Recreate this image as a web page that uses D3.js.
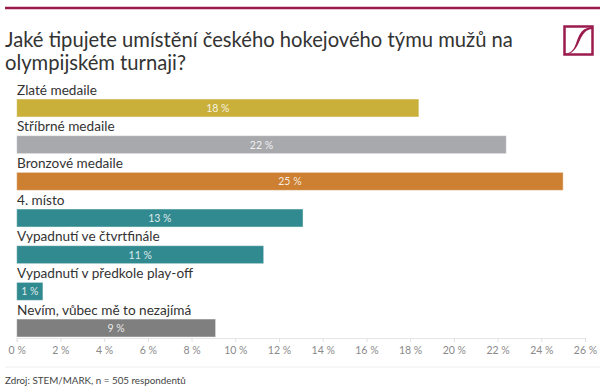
<!DOCTYPE html>
<html>
<head>
<meta charset="utf-8">
<script src="https://cdn.jsdelivr.net/npm/d3@7"></script>
<style>
  body { margin: 0; background: #fff; }
  svg { display: block; font-family: Lato, "Open Sans", sans-serif; }
</style>
</head>
<body>
<svg id="chart" width="605" height="392"></svg>
<script>
// data
const categories = ["Zlaté medaile", "Stříbrné medaile", "Bronzové medaile", "4. místo",
  "Vypadnutí ve čtvrtfinále", "Vypadnutí v předkole play-off", "Nevím, vůbec mě to nezajímá"];
const values = [18.4, 22.4, 25.0, 13.1, 11.3, 1.2, 9.1];
const labels = ["18 %", "22 %", "25 %", "13 %", "11 %", "1 %", "9 %"];
const colors = ["#c9b03b", "#a8a9ad", "#cd7f32", "#318a90", "#318a90", "#318a90", "#7f7f7f"];
const ticks = [0, 2, 4, 6, 8, 10, 12, 14, 16, 18, 20, 22, 24, 26];
const titleLines = ["Jaké tipujete umístění českého hokejového týmu mužů na", "olympijském turnaji?"];
const source = "Zdroj: STEM/MARK, n = 505 respondentů";

let svg = d3.select("#chart");
let maroon = "#9b1b4d";

// top rule
svg.append("line").attr("x1", 5).attr("x2", 600).attr("y1", 8).attr("y2", 8)
  .attr("stroke", maroon).attr("stroke-width", 2.5);

// title
svg.append("text").attr("x", 5).attr("y", 47)
  .attr("fill", "#333").style("font-size", "20.2px")
  .selectAll("tspan").data(titleLines).enter().append("tspan")
  .attr("x", 5).attr("dy", (d, i) => i == 0 ? 0 : 22.5)
  .text(d => d);

// logo
let logo = svg.append("g").attr("transform", "translate(563,25)");
logo.append("rect").attr("x", 1.5).attr("y", 1.5).attr("width", 28).attr("height", 28)
  .attr("fill", "none").attr("stroke", maroon).attr("stroke-width", 2.5);
logo.append("path")
  .attr("d", "M2,29 C12,27 12,20 15,13 C18,6 21,3 29,2 L29,4 C22,5 20,9 17,15 C14,22 11,28 4,29 Z")
  .attr("fill", maroon);

let x = d3.scaleLinear().domain([0, 26]).range([16.7, 585]);
let y = d3.scaleBand().domain(categories).range([80.3, 337]);

let rows = svg.selectAll(".row").data(categories).enter().append("g").attr("class", "row");

rows.append("text")
  .attr("x", 17).attr("y", d => y(d) + 14.5)
  .attr("fill", "#333").style("font-size", "13.6px")
  .text(d => d);

rows.append("rect")
  .attr("x", x(0)).attr("y", d => y(d) + 18.7)
  .attr("width", (d, i) => x(values[i]) - x(0)).attr("height", 18)
  .attr("fill", (d, i) => colors[i])
  .attr("stroke", "#fff").attr("stroke-opacity", 0.45).attr("stroke-width", 1);

rows.append("text")
  .attr("x", (d, i) => (x(0) + x(values[i])) / 2).attr("y", d => y(d) + 31.6)
  .attr("text-anchor", "middle").attr("fill", "#fff").attr("fill-opacity", 0.85)
  .style("font-size", "10.5px")
  .text((d, i) => labels[i]);

// axis
let axis = svg.append("g").attr("transform", "translate(0,338)")
  .call(d3.axisBottom(x).tickValues(ticks).tickSize(4).tickPadding(5).tickFormat(d => d + " %"));
axis.select(".domain").attr("stroke", "#e6e6e6");
axis.selectAll(".tick line").attr("stroke", "#e0e0e0");
axis.selectAll(".tick text").attr("fill", "#8a8a8a").style("font-size", "10.5px")
  .style("font-family", "Lato, sans-serif");

svg.append("line").attr("x1", 5).attr("x2", 600).attr("y1", 367).attr("y2", 367)
  .attr("stroke", "#eeeeee").attr("stroke-width", 1);

svg.append("text").attr("x", 5).attr("y", 384)
  .attr("fill", "#444").style("font-size", "9.8px")
  .text(source);
</script>
</body>
</html>
